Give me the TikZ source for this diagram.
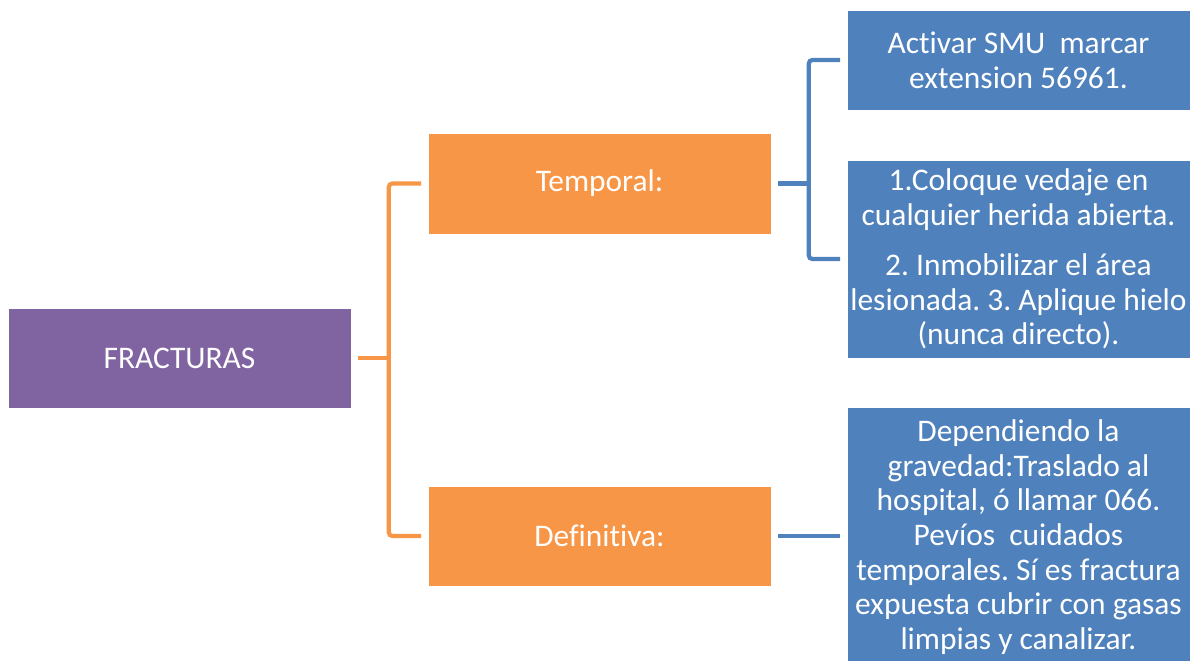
\documentclass[tikz,border=0pt]{standalone}
\usepackage{fontspec}
\setmainfont{Carlito}[Ligatures=NoCommon]
\frenchspacing
\usetikzlibrary{positioning,calc}
\definecolor{rootcol}{HTML}{8064A2}
\definecolor{midcol}{HTML}{F79646}
\definecolor{leafcol}{HTML}{4F81BD}
\begin{document}
\begin{tikzpicture}[x=0.02cm,y=-0.02cm,
  box/.style={draw=white,line width=0.4pt,text=white,align=center,inner sep=0pt,
    minimum width=6.86cm,font=\fontsize{17.9}{19.7}\selectfont},
  rootbox/.style={box,fill=rootcol},
  midbox/.style={box,fill=midcol},
  leafbox/.style={box,fill=leafcol},
  midline/.style={midcol,line width=2.4pt,rounded corners=2pt},
  leafline/.style={leafcol,line width=2.4pt,rounded corners=2pt}]
  \useasboundingbox (0,0) rectangle (1200,660);
  % boxes
  \node[rootbox,minimum height=2cm] (root) at (179.5,358) {FRACTURAS};
  \node[midbox,minimum height=2.02cm] (temp) at (599.5,183.5) {Temporal:};
  \node[midbox,minimum height=2cm] (defi) at (599.5,536) {Definitiva:};
  \node[leafbox,minimum height=2cm] (leafa) at (1018.5,60) {Activar SMU\ \ marcar\\extension 56961.};
  \node[leafbox,minimum height=3.96cm] (leafb) at (1018.5,259)
    {1.Coloque vedaje en\\cualquier herida abierta.\\[9pt]2. Inmobilizar el área\\lesionada. 3. Aplique hielo\\(nunca directo).};
  \node[leafbox,minimum height=5.2cm] (leafc) at (1018.5,537)
    {Dependiendo la\\gravedad:Traslado al\\hospital, ó llamar 066.\\Pevíos\ \ cuidados\\temporales. Sí es fractura\\expuesta cubrir con gasas\\limpias y canalizar.};
  % connectors
  \draw[midline] ([xshift=0.13cm]root.east) -- ++(31,0) coordinate (rootfork);
  \draw[midline] ([xshift=-0.13cm]temp.west) -| (rootfork) |- ([xshift=-0.13cm]defi.west);
  \draw[leafline] ([xshift=0.13cm]temp.east) -- ++(31,0) coordinate (tempfork);
  \draw[leafline] ([xshift=-0.13cm]leafa.west) -| (tempfork) |- ([xshift=-0.13cm]leafb.west);
  \draw[leafline] ([xshift=0.13cm]defi.east) -- ([xshift=-0.13cm]defi.east -| leafc.west);
\end{tikzpicture}
\end{document}
